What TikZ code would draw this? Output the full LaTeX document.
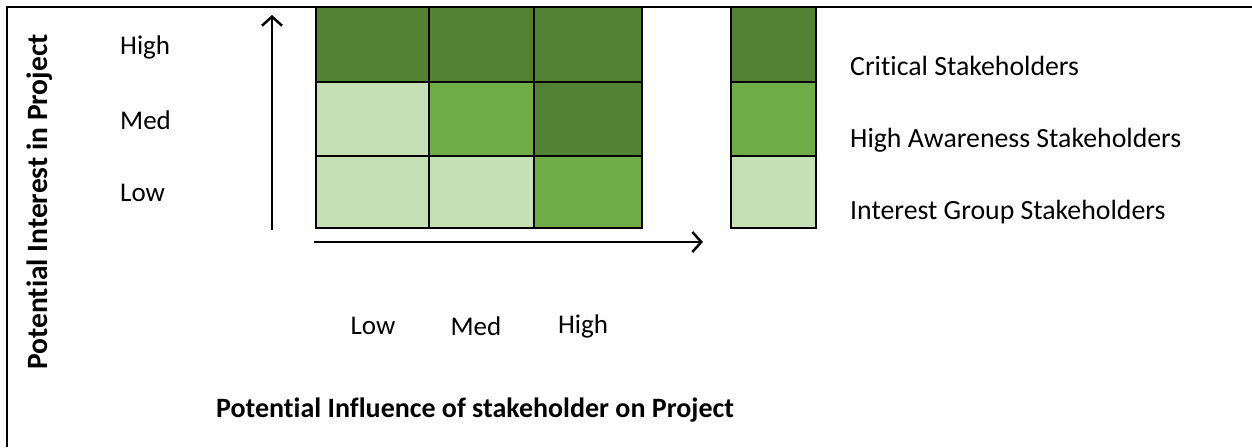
\documentclass[tikz,border=0pt]{standalone}
\usepackage{fontspec}
\setmainfont{Carlito}[Ligatures=NoCommon]
\usetikzlibrary{arrows.meta}
\definecolor{dkg}{HTML}{548235}
\definecolor{mdg}{HTML}{70AD47}
\definecolor{ltg}{HTML}{C5E0B4}
\begin{document}
\begin{tikzpicture}[x=1pt,y=-1pt,
  cell/.style={draw=black,line width=2pt,inner sep=0pt,outer sep=0pt,rectangle},
  lbl/.style={font=\fontsize{27}{32}\selectfont,inner sep=0pt},
  leg/.style={font=\fontsize{27.8}{32}\selectfont,inner sep=0pt,anchor=west},
  ttl/.style={font=\fontsize{28}{32}\selectfont\bfseries,inner sep=0pt},
  axis/.style={line width=2.5pt,-{Straight Barb[length=9pt,width=20pt,line width=2.5pt]}}]
\useasboundingbox (0,0) rectangle (1252,447);
% frame
\coordinate (fl) at (7,447);
\coordinate (fc) at (7,7);
\coordinate (fr) at (1252,7);
\draw[line width=2.5pt] (fl) -- (fc) -- (fr);
% grid
\def\cellat#1#2#3#4#5#6{\node[cell,fill=#6,minimum width=#4-#2,minimum height=#5-#3] (#1) at ({(#2+#4)/2},{(#3+#5)/2}) {};}
\cellat{hl}{316}{7}{429}{82}{dkg}
\cellat{hm}{429}{7}{534}{82}{dkg}
\cellat{hh}{534}{7}{642}{82}{dkg}
\cellat{ml}{316}{82}{429}{156}{ltg}
\cellat{mm}{429}{82}{534}{156}{mdg}
\cellat{mh}{534}{82}{642}{156}{dkg}
\cellat{ll}{316}{156}{429}{228}{ltg}
\cellat{lm}{429}{156}{534}{228}{ltg}
\cellat{lh}{534}{156}{642}{228}{mdg}
% legend
\cellat{k1}{731}{7}{816}{82}{dkg}
\cellat{k2}{731}{82}{816}{156}{mdg}
\cellat{k3}{731}{156}{816}{228}{ltg}
% axes
\coordinate (vb) at (272,230);
\coordinate (vt) at (272,15);
\coordinate (hb) at (314,242);
\coordinate (he) at (703,242);
\draw[axis] (vb) -- (vt);
\draw[axis] (hb) -- (he);
% row labels
\node[lbl,anchor=west] (rH) at (120,47) {High};
\node[lbl,anchor=west] (rM) at (120,120) {Med};
\node[lbl,anchor=west] (rL) at (120,193) {Low};
% column labels
\node[lbl] (cL) at (373,326) {Low};
\node[lbl] (cM) at (476,326) {Med};
\node[lbl] (cH) at (583,326) {High};
% legend labels
\node[leg] (t1) at (850,66) {Critical Stakeholders};
\node[leg] (t2) at (850,140) {High Awareness Stakeholders};
\node[leg] (t3) at (850,212) {Interest Group Stakeholders};
% titles
\node[ttl,anchor=west] (tx) at (216,410) {Potential Influence of stakeholder on Project};
\node[ttl,rotate=90,font=\fontsize{29.5}{34}\selectfont\bfseries] (ty) at (40,202) {Potential Interest in Project};
\end{tikzpicture}
\end{document}
